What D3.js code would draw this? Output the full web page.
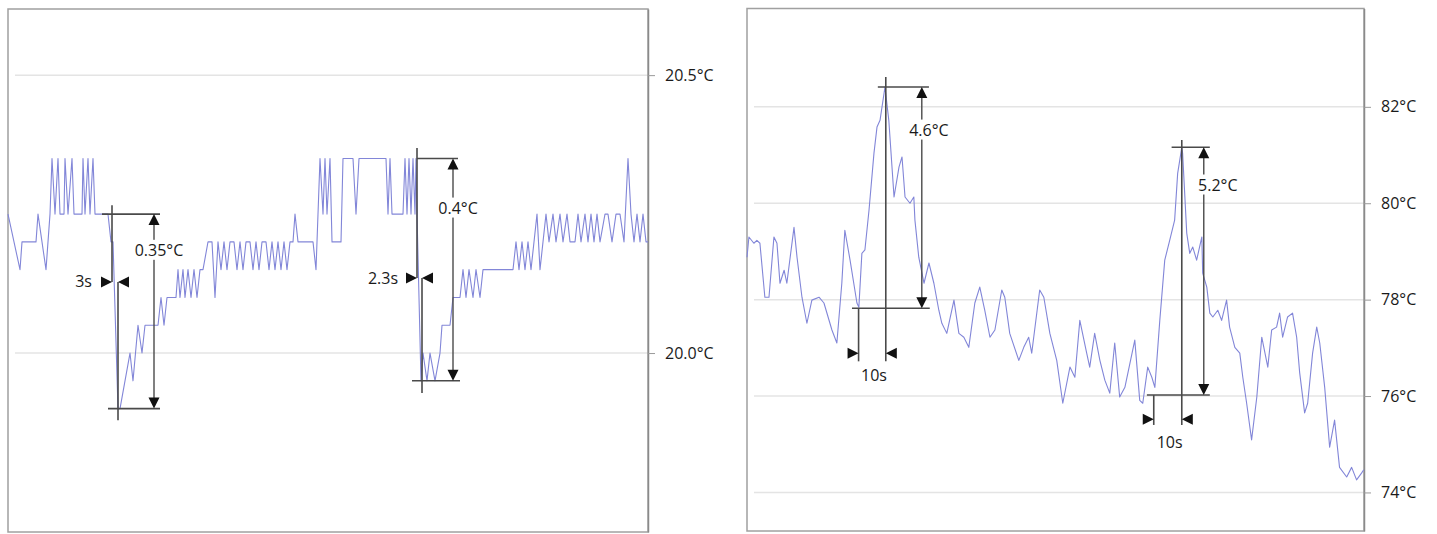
<!DOCTYPE html>
<html>
<head>
<meta charset="utf-8">
<script src="https://cdnjs.cloudflare.com/ajax/libs/d3/7.8.5/d3.min.js"></script>
<style>
  body { margin: 0; background: #fff; }
  text { font-family: "Open Sans", sans-serif; fill: #1a1a1a; }
</style>
</head>
<body>
<script>
// ---- left trace: ambient sensor (time in s, temperature in °C) ----
var leftTime = [0, 6, 7, 14, 15, 19, 21, 22, 23.5, 25, 26, 28, 28.5, 30, 32, 33, 37, 37.5, 38.5, 40, 41, 42.5, 43.5,
  50, 51.5, 52.5, 55, 56, 58.5, 61, 62.5, 65, 67, 68.5, 75, 76.5, 78, 79.5, 84, 85, 86, 87.5, 88.5, 90, 91.5, 93, 94.5,
  96, 97.5, 100, 102, 103.5, 105, 106.5, 108, 109.5, 111, 113, 114.5, 116, 117.5, 119, 121, 122.5, 124, 125.5, 127,
  129, 130.5, 132, 133.5, 135, 136.5, 138, 139.5, 141, 142.5, 143.5, 145, 152.5, 154, 156, 157.5, 158.5, 159.5, 161,
  162, 166.5, 167.5, 172.5, 174, 175.5, 189, 190, 191, 192, 197.5, 198.5, 199.5, 200.5, 201.5, 202.5, 203.5, 204,
  204.5, 206.5, 207.5, 209.5, 211, 213.5, 216, 217, 221, 222.5, 226, 227.5, 229, 230.5, 232.5, 234, 236, 237.5,
  252.5, 254, 255.5, 257, 258.5, 260, 261.5, 264.5, 266, 267.5, 269, 270.5, 272.5, 274, 276, 277.5, 279.5, 281,
  283.5, 285, 286.5, 288.5, 290, 291.5, 293, 294.5, 296, 298.5, 300, 302, 304, 306, 308, 310, 311.5, 313, 314.5,
  316, 317.5, 319, 320];
var leftTemp = [20.25, 20.15, 20.20, 20.20, 20.25, 20.15, 20.25, 20.35, 20.25, 20.35, 20.25, 20.25, 20.35, 20.25, 20.35, 20.25, 20.25, 20.35, 20.25, 20.35, 20.25, 20.35, 20.25,
  20.25, 20.20, 20.20, 19.90, 19.90, 19.95, 20.00, 19.95, 20.05, 20.00, 20.05, 20.05, 20.10, 20.05, 20.10, 20.10, 20.15, 20.10, 20.15, 20.10, 20.15, 20.10, 20.15, 20.10,
  20.15, 20.15, 20.20, 20.20, 20.10, 20.20, 20.15, 20.20, 20.15, 20.20, 20.20, 20.15, 20.20, 20.15, 20.20, 20.20, 20.15, 20.20, 20.15, 20.20,
  20.20, 20.15, 20.20, 20.15, 20.20, 20.15, 20.20, 20.15, 20.20, 20.20, 20.25, 20.20, 20.20, 20.15, 20.35, 20.25, 20.35, 20.25, 20.35,
  20.20, 20.20, 20.35, 20.35, 20.25, 20.35, 20.35, 20.25, 20.35, 20.25, 20.25, 20.35, 20.25, 20.35, 20.25, 20.35, 20.25, 20.35,
  20.25, 19.95, 20.00, 19.95, 20.00, 19.95, 20.00, 20.05, 20.05, 20.10, 20.10, 20.15, 20.10, 20.15, 20.10, 20.15, 20.10, 20.15,
  20.15, 20.20, 20.15, 20.20, 20.15, 20.20, 20.15, 20.25, 20.15, 20.20, 20.25, 20.20, 20.25, 20.20, 20.25, 20.20, 20.25, 20.20,
  20.20, 20.25, 20.20, 20.25, 20.20, 20.25, 20.20, 20.25, 20.20, 20.25, 20.25, 20.20, 20.25, 20.25, 20.20, 20.35, 20.25, 20.20, 20.25,
  20.20, 20.25, 20.20, 20.20];
var leftTicks = [20.0, 20.5];

// ---- right trace: heated sensor ----
var rightTime = [0, 0.7, 2.5, 3.6, 4.7, 6.5, 8.0, 9.8, 10.9, 12.0, 13.5, 14.5, 17.1, 18.2, 20.0, 21.8, 23.6, 26.2, 28.0,
  30.9, 32.7, 34.5, 35.6, 37.5, 40.0, 40.7, 41.8, 42.9, 44.4, 46.2, 47.3, 48.4, 50.2, 51.6, 53.5, 55.3, 56.4, 57.5,
  59.3, 60.7, 61.1, 62.5, 64.4, 66.2, 68.0, 69.8, 70.9, 72.7, 75.3, 77.1, 78.9, 80.7, 82.9, 84.7, 86.5, 88.4, 90.2,
  92.7, 93.8, 95.6, 98.9, 100.7, 102.5, 103.6, 106.5, 108.0, 110.2, 112.7, 114.9, 117.5, 119.3, 121.1, 123.6, 124.7,
  126.5, 128.4, 130.2, 132.0, 133.8, 135.6, 137.5, 141.1, 142.9, 144.0, 145.8, 147.3, 148.4, 150.2, 152.0, 153.8,
  155.6, 156.7, 158.2, 158.5, 160.0, 161.1, 162.2, 163.6, 165.5, 165.8, 167.3, 168.4, 169.5, 171.3, 172.7, 174.5,
  175.6, 177.5, 179.3, 180.4, 181.8, 183.6, 185.5, 187.3, 189.5, 190.9, 192.7, 193.8, 194.9, 196.7, 198.5, 200.0,
  201.1, 202.9, 204.0, 205.8, 207.3, 208.4, 210.2, 212.0, 213.8, 215.6, 218.2, 220.0, 221.8, 223.6, 224.4];
var rightTemp = [78.88, 79.30, 79.17, 79.23, 79.17, 78.05, 78.05, 79.30, 79.17, 78.34, 78.61, 78.34, 79.50, 78.88, 78.05, 77.51, 77.99, 78.05, 77.93,
  77.37, 77.10, 78.34, 79.44, 78.82, 77.93, 77.84, 78.96, 79.03, 79.86, 81.04, 81.58, 81.72, 82.41, 81.72, 80.13, 80.75, 80.96, 80.13,
  80.00, 80.13, 79.65, 78.88, 78.34, 78.76, 78.34, 77.78, 77.51, 77.30, 77.99, 77.30, 77.22, 77.01, 77.93, 78.26, 77.78, 77.22, 77.37,
  78.20, 78.05, 77.30, 76.74, 77.01, 77.22, 76.89, 78.20, 78.05, 77.30, 76.74, 75.85, 76.60, 76.39, 77.57, 76.89, 76.60,
  77.30, 76.74, 76.33, 76.06, 77.10, 75.98, 76.18, 77.16, 75.91, 75.85, 76.60, 76.39, 76.18, 77.57, 78.82, 79.23,
  79.65, 80.62, 81.16, 81.04, 79.38, 78.96, 79.09, 78.82, 79.30, 78.55, 78.26, 77.72, 77.64, 77.78, 77.57, 77.99,
  77.43, 77.01, 76.89, 76.39, 75.85, 75.09, 75.98, 77.22, 76.60, 77.37, 77.43, 77.72, 77.22, 77.64, 77.72, 77.22,
  76.48, 75.65, 75.85, 76.89, 77.43, 77.10, 76.18, 74.94, 75.50, 74.52, 74.32, 74.52, 74.26, 74.40, 74.47];
var rightTicks = [74, 76, 78, 80, 82];

// ---- annotations, in data units ----
// horizontal guide lines: [temp, t0, t1]
var leftHLines = [[20.25, 47, 76], [19.90, 50, 76], [20.35, 204.5, 225], [19.95, 202, 226]];
var rightHLines = [[82.41, 47.6, 66.2], [77.82, 38.2, 66.5], [81.16, 154.5, 168.4], [76.02, 145.5, 168.4]];
// vertical guide lines: [t, temp0, temp1]
var leftVLines = [[52, 20.266, 20.128], [55, 20.128, 19.879], [204.5, 20.369, 20.135], [207, 20.135, 19.928]];
var rightVLines = [[50.5, 82.62, 76.72], [40.6, 77.82, 76.72], [158.2, 81.31, 75.40], [148.0, 76.02, 75.40]];
// temperature deltas: [t, top, bottom, label, labelT, labelTemp]
var leftDeltas = [[73, 20.25, 19.90, "0.35°C", 75.5, 20.185], [222.5, 20.35, 19.95, "0.4°C", 225, 20.261]];
var rightDeltas = [[63.6, 82.41, 77.82, "4.6°C", 66.2, 81.52], [166.2, 81.16, 76.02, "5.2°C", 171.3, 80.38]];
// time gaps: [t0, t1, temp, label, labelT, labelTemp, anchor]
var leftGaps = [[52, 55, 20.128, "3s", 42, 20.128, "end"], [204.5, 207, 20.135, "2.3s", 195, 20.135, "end"]];
var rightGaps = [[40.6, 50.5, 76.89, "10s", 46.2, 76.43, "middle"], [148.0, 158.2, 75.52, "10s", 153.8, 75.04, "middle"]];

var width = 1437, height = 534;

var svg = d3.select("body").append("svg")
  .attr("width", width)
  .attr("height", height);

var panels = [
  {
    x: d3.scaleLinear().domain([0, 320]).range([8, 648]),
    y: d3.scaleLinear().domain([19.678, 20.619]).range([532, 9]),
    time: leftTime, temp: leftTemp, ticks: leftTicks,
    fmt: function(d) { return d.toFixed(1) + "°C"; },
    hl: leftHLines, vl: leftVLines, deltas: leftDeltas, gaps: leftGaps
  },
  {
    x: d3.scaleLinear().domain([0, 224.5]).range([747, 1364]),
    y: d3.scaleLinear().domain([73.2, 84.04]).range([531, 8.5]),
    time: rightTime, temp: rightTemp, ticks: rightTicks,
    fmt: function(d) { return d + "°C"; },
    hl: rightHLines, vl: rightVLines, deltas: rightDeltas, gaps: rightGaps
  }
];

panels.forEach(function(p) {
  var x0 = p.x.range()[0], x1 = p.x.range()[1];
  var yb = p.y.range()[0], yt = p.y.range()[1];
  var g = svg.append("g");

  // gridlines
  g.selectAll(".grid").data(p.ticks).enter().append("line")
    .attr("x1", x0 + 7).attr("x2", x1)
    .attr("y1", function(d) { return p.y(d); })
    .attr("y2", function(d) { return p.y(d); })
    .style("stroke", "#e4e4e4").style("stroke-width", 1.5);

  // outer box
  g.append("rect")
    .attr("x", x0).attr("y", yt)
    .attr("width", x1 - x0).attr("height", yb - yt)
    .style("fill", "none").style("stroke", "#a0a0a0").style("stroke-width", 1.5);

  // value axis on the right
  var axis = d3.axisRight(p.y).tickValues(p.ticks).tickFormat(p.fmt)
    .tickSize(7).tickSizeOuter(0).tickPadding(10);
  var ag = g.append("g").attr("transform", "translate(" + x1 + ",0)").call(axis);
  ag.select(".domain").style("stroke", "#8a8a8a").style("stroke-width", 1.5);
  ag.selectAll(".tick line").style("stroke", "#9a9a9a");
  ag.selectAll(".tick text").style("font-size", "16px").style("font-family", "'Open Sans', sans-serif").style("fill", "#1a1a1a");

  // data trace
  var pts = p.time.map(function(t, i) { return [t, p.temp[i]]; });
  var line = d3.line().x(function(d) { return p.x(d[0]); }).y(function(d) { return p.y(d[1]); });
  g.append("path").datum(pts)
    .attr("d", line)
    .style("fill", "none").style("stroke", "#8286d8").style("stroke-width", 1.1)
    .style("stroke-linejoin", "round");

  var ink = "#4a4a4a";

  // guide lines
  g.selectAll(".hl").data(p.hl).enter().append("line")
    .attr("x1", function(d) { return p.x(d[1]); }).attr("x2", function(d) { return p.x(d[2]); })
    .attr("y1", function(d) { return p.y(d[0]); }).attr("y2", function(d) { return p.y(d[0]); })
    .style("stroke", ink).style("stroke-width", 1.6);
  g.selectAll(".vl").data(p.vl).enter().append("line")
    .attr("x1", function(d) { return p.x(d[0]); }).attr("x2", function(d) { return p.x(d[0]); })
    .attr("y1", function(d) { return p.y(d[1]); }).attr("y2", function(d) { return p.y(d[2]); })
    .style("stroke", ink).style("stroke-width", 1.6);

  // vertical delta arrows
  p.deltas.forEach(function(d) {
    var ax = p.x(d[0]), ytop = p.y(d[1]), ybot = p.y(d[2]);
    g.append("line").attr("x1", ax).attr("x2", ax).attr("y1", ytop + 8).attr("y2", ybot - 8)
      .style("stroke", ink).style("stroke-width", 1.4);
    g.append("path").attr("d", "M" + ax + "," + ytop + "l-5.5,11h11z").style("fill", "#111");
    g.append("path").attr("d", "M" + ax + "," + ybot + "l-5.5,-11h11z").style("fill", "#111");
    var lx = p.x(d[4]), ly = p.y(d[5]);
    var txt = g.append("text").attr("x", lx).attr("y", ly).attr("dy", "0.35em")
      .attr("text-anchor", "middle").style("font-size", "16px").text(d[3]);
    var bb = txt.node().getBBox();
    g.insert("rect", function() { return txt.node(); })
      .attr("x", bb.x - 2).attr("y", bb.y + 1).attr("width", bb.width + 4).attr("height", bb.height - 2)
      .style("fill", "#fff");
  });

  // horizontal time-gap arrows
  p.gaps.forEach(function(d) {
    var xa = p.x(d[0]), xb = p.x(d[1]), gy = p.y(d[2]);
    g.append("path").attr("d", "M" + xa + "," + gy + "l-11,-5.5v11z").style("fill", "#111");
    g.append("path").attr("d", "M" + xb + "," + gy + "l11,-5.5v11z").style("fill", "#111");
    g.append("text").attr("x", p.x(d[4])).attr("y", p.y(d[5])).attr("dy", "0.35em")
      .attr("text-anchor", d[6]).style("font-size", "16px").text(d[3]);
  });
});
</script>
</body>
</html>
